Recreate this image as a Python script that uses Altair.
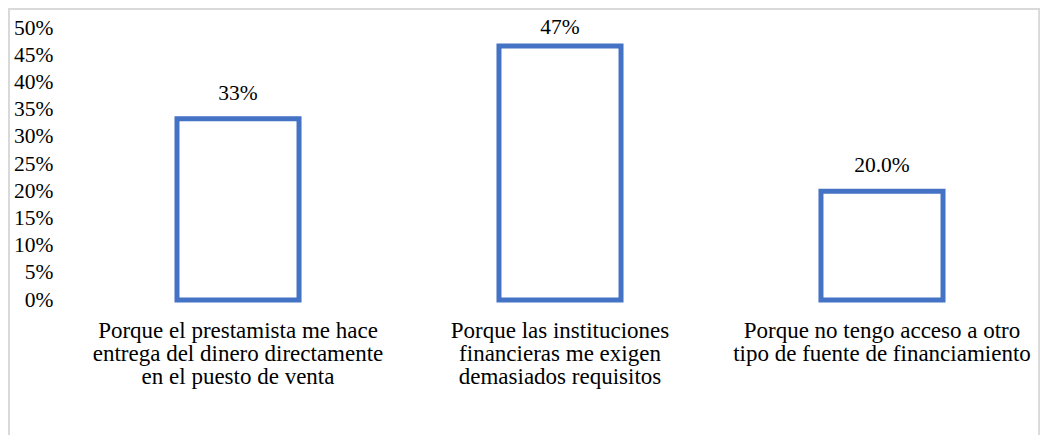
import altair as alt
import pandas as pd

categories = [
    "Porque el prestamista me hace|entrega del dinero directamente|en el puesto de venta",
    "Porque las instituciones|financieras me exigen|demasiados requisitos",
    "Porque no tengo acceso  a otro|tipo de fuente de financiamiento",
]
values = [0.333, 0.467, 0.200]
value_labels = ["33%", "47%", "20.0%"]
tick_values = [0.0, 0.05, 0.1, 0.15, 0.2, 0.25, 0.3, 0.35, 0.4, 0.45, 0.5]

df = pd.DataFrame({"cat": categories, "val": values, "lbl": value_labels})

FONT = "Liberation Serif"

x_axis = alt.Axis(
    labelExpr="split(datum.label, '|')",
    labelAngle=0,
    labelFont=FONT,
    labelFontSize=23,
    labelColor="#000000",
    labelLineHeight=23.3,
    labelPadding=19,
    labelLimit=0,
    ticks=False,
    tickSize=0,
    domain=False,
    grid=False,
)

y_axis = alt.Axis(
    format=".0%",
    values=tick_values,
    labelFont=FONT,
    labelFontSize=21.5,
    labelColor="#000000",
    labelPadding=29,
    labelOverlap=False,
    labelFlush=False,
    ticks=False,
    tickSize=0,
    domain=False,
    grid=False,
)

x_enc = alt.X(
    "cat:N",
    sort=categories,
    title=None,
    scale=alt.Scale(paddingInner=0.621, paddingOuter=0.295),
    axis=x_axis,
)
y_scale = alt.Scale(domain=[0, 0.5], nice=False)
y_enc = alt.Y("val:Q", title=None, scale=y_scale, axis=y_axis)

base = alt.Chart(df)

bars = base.mark_bar(fill="white", stroke="#4472C4", strokeWidth=5).encode(
    x=x_enc, y=y_enc
)

# labels are kept inside the plot area (as the original does for the tallest bar)
texts = (
    base.transform_calculate(lab_y="min(datum.val, 0.454)")
    .mark_text(
        font=FONT, fontSize=21.5, color="#000000", baseline="alphabetic", dy=-19
    )
    .encode(
        x=x_enc,
        y=alt.Y("lab_y:Q", title=None, scale=y_scale, axis=y_axis),
        text="lbl:N",
    )
)

border = base.mark_rect(
    fill="transparent", stroke="#D9D9D9", strokeWidth=2, clip=False
).encode(
    x=alt.value(-73), x2=alt.value(957.5), y=alt.value(-19), y2=alt.value(430)
)

chart = (
    alt.layer(border, bars, texts)
    .properties(
        width=956,
        height=272,
        background="white",
        autosize=alt.AutoSizeParams(type="none"),
        padding={"left": 74, "top": 20, "right": 2, "bottom": 135},
    )
    .configure(font=FONT)
    .configure_view(strokeWidth=0, stroke="transparent")
)

chart.save("out.html", embed_options={"renderer": "svg", "actions": False})
